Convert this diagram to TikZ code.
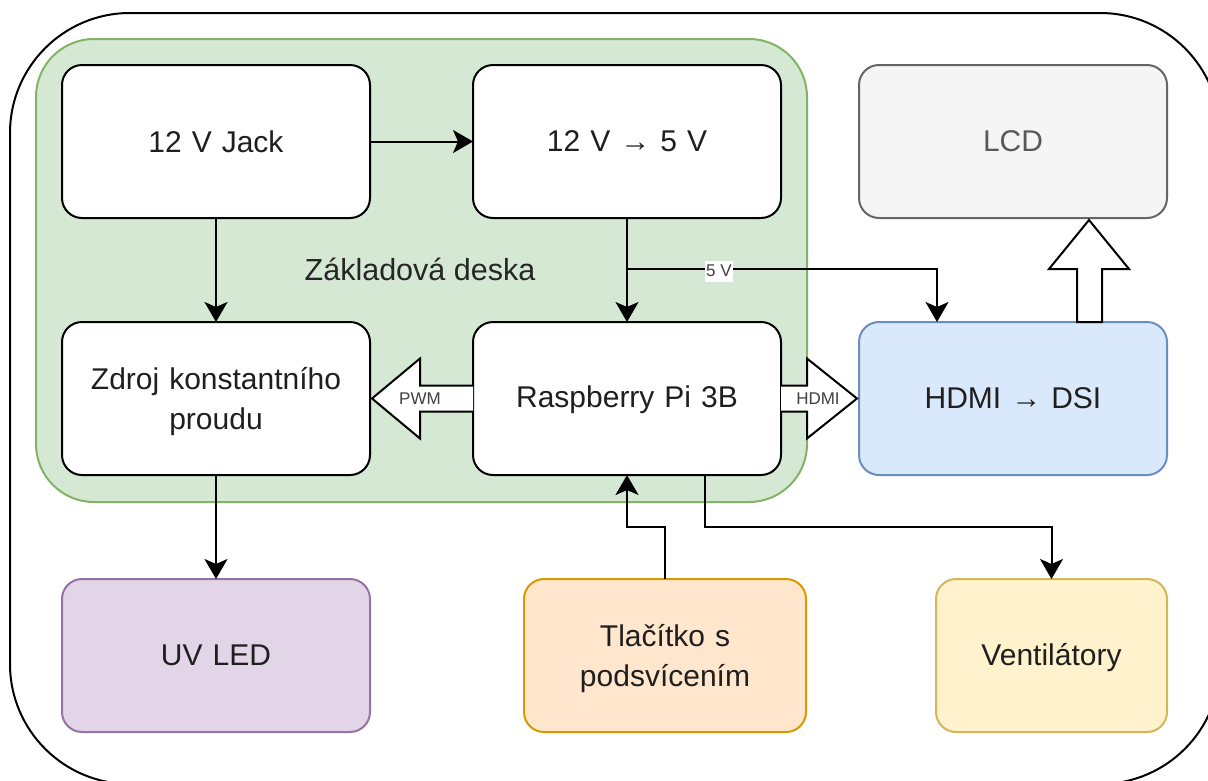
\documentclass[tikz,border=0pt]{standalone}
\usepackage{fontspec}
\setmainfont{Liberation Sans}
\definecolor{gfill}{HTML}{D5E8D4}\definecolor{gline}{HTML}{82B366}
\definecolor{bfill}{HTML}{DAE8FC}\definecolor{bline}{HTML}{6C8EBF}
\definecolor{pfill}{HTML}{E1D5E7}\definecolor{pline}{HTML}{9673A6}
\definecolor{ofill}{HTML}{FFE6CC}\definecolor{oline}{HTML}{D79B00}
\definecolor{yfill}{HTML}{FFF2CC}\definecolor{yline}{HTML}{D6B656}
\definecolor{lfill}{HTML}{F5F5F5}\definecolor{lline}{HTML}{666666}
\usetikzlibrary{arrows.meta,calc}
\tikzset{
 x=1pt,y=-1pt,
 blk/.style={draw=black,fill=white,line width=2pt,rounded corners=20pt,anchor=north west,inner sep=4pt,outer sep=0pt,align=center,font=\fontsize{30}{40}\selectfont,text=black!88},
 conn/.style={draw=black,line width=2pt,-{Triangle[length=20pt,width=23pt,inset=5pt]}},
 fat/.style={draw=black,fill=white,line width=2pt,line join=miter},
 small/.style={font=\fontsize{17}{20}\selectfont,text=black!75,inner sep=1pt}
}
\newcommand{\bx}[7]{\node[blk,minimum width=#3pt,minimum height=#4pt,text width=#3pt-12pt,#6] (#5) at (#1,#2) {#7};}
\begin{document}
\begin{tikzpicture}
\useasboundingbox (0,0) rectangle (1208,780);
\clip (0,0) rectangle (1208,780);
\fill[white] (0,0) rectangle (1208,780);
\draw[line width=2pt,rounded corners=120pt,draw=black] (10,13) rectangle (1220,784);
\draw[line width=2pt,draw=gline,fill=gfill,rounded corners=58pt] (36,39) rectangle (807,502);
\node[font=\fontsize{30.5}{38}\selectfont,text=black!85] (title) at (420,269) {Základová deska};
\bx{62}{65}{308}{153}{jack}{}{12 V Jack}
\bx{473}{65}{308}{153}{conv}{}{12 V → 5 V}
\bx{62}{322}{308}{153}{zdroj}{}{\rule{0pt}{28pt}Zdroj konstantního\\proudu}
\bx{473}{322}{308}{153}{rpi}{}{\rule{0pt}{24pt}Raspberry Pi 3B}
\bx{859}{65}{308}{153}{lcd}{draw=lline,fill=lfill,text=black!65}{LCD}
\bx{859}{322}{308}{153}{hdmi}{draw=bline,fill=bfill}{HDMI → DSI}
\bx{62}{579}{308}{153}{uv}{draw=pline,fill=pfill}{UV LED}
\bx{524}{579}{282}{153}{btn}{draw=oline,fill=ofill}{\rule{0pt}{28pt}Tlačítko s\\podsvícením}
\bx{936}{579}{231}{153}{fan}{draw=yline,fill=yfill}{\rule{0pt}{26pt}Ventilátory}
\draw[conn] (jack) -- (conv);
\draw[conn] (jack) -- (zdroj);
\draw[conn] (conv) -- (rpi);
\coordinate (tap) at (conv.south |- title);
\coordinate (dsiin) at ($(hdmi.north)+(-76,0)$);
\coordinate (fanout) at ($(rpi.south)+(78,0)$);
\draw[conn] (tap) -| (dsiin);
\node[small,fill=white,minimum width=28pt,minimum height=21pt] (fiveV) at (719,271) {5 V};
\draw[conn] (zdroj) -- (uv);
\draw[conn] (btn.north) -- ++(0,-52) -| (rpi.south);
\draw[conn] (fanout) -- ++(0,52) -| (fan.north);
\draw[fat] ($(rpi.west)+(0,-13)$) -- ++(-53,0) -- ++(0,-27) -- ($(zdroj.east)+(2,0)$) -- ($(rpi.west)+(-53,40)$) -- ++(0,-27) -- ++(53,0);
\node[small] (pwm) at (420,398.5) {PWM};
\draw[fat] ($(rpi.east)+(0,-13)$) -- ++(26,0) -- ++(0,-27) -- ($(hdmi.west)+(-2,0)$) -- ($(rpi.east)+(26,40)$) -- ++(0,-27) -- ++(-26,0);
\node[small] (hd) at (818,398.5) {HDMI};
\draw[fat] ($(hdmi.north)+(64,0)$) -- ++(0,-53) -- ++(-28,0) -- ($(lcd.south)+(76,2)$) -- ($(hdmi.north)+(116,-53)$) -- ++(-27,0) -- ++(0,53) -- cycle;
\end{tikzpicture}
\end{document}
